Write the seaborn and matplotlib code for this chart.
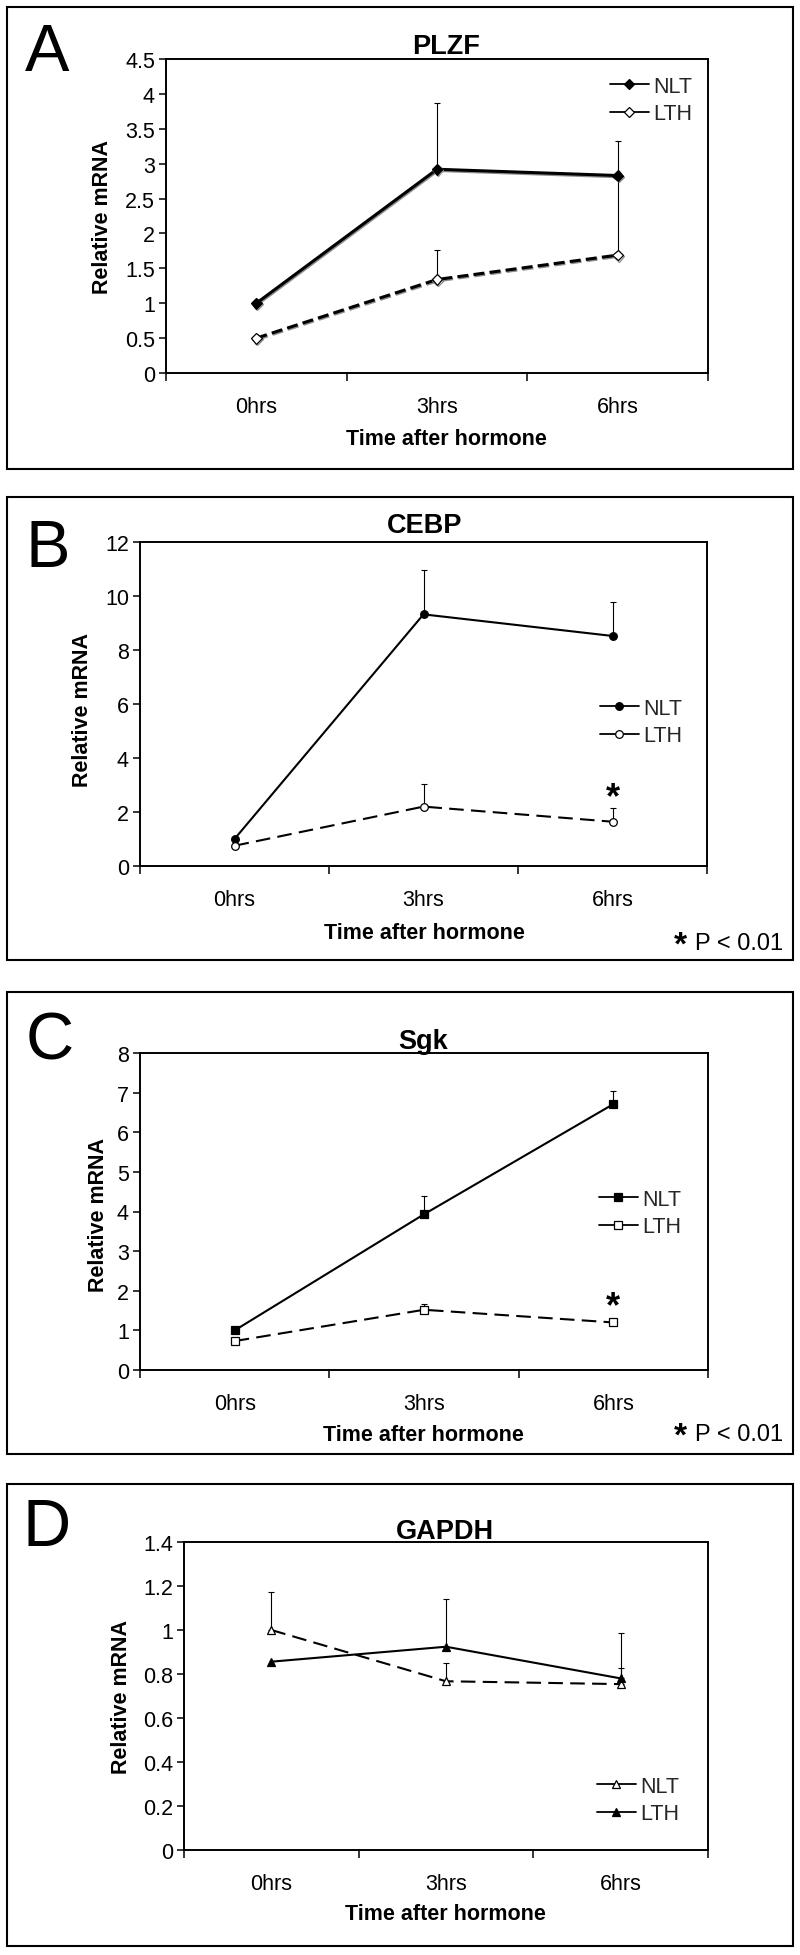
import numpy as np
import pandas as pd
import matplotlib
matplotlib.use("Agg")
import matplotlib.pyplot as plt
import matplotlib.patheffects as pe
from matplotlib.patches import Rectangle
from matplotlib.lines import Line2D
from matplotlib.ticker import FuncFormatter, MultipleLocator, FixedLocator
import seaborn as sns

# ---------------- data ----------------
times = ["0hrs", "3hrs", "6hrs"]
series = ["NLT", "LTH"]

plzf_nlt = [1.00, 2.92, 2.83]
plzf_nlt_err = [0.0, 0.95, 0.49]
plzf_lth = [0.50, 1.34, 1.69]
plzf_lth_err = [0.0, 0.42, 1.10]

cebp_nlt = [1.00, 9.32, 8.52]
cebp_nlt_err = [0.0, 1.65, 1.25]
cebp_lth = [0.75, 2.20, 1.64]
cebp_lth_err = [0.0, 0.83, 0.51]

sgk_nlt = [1.00, 3.93, 6.71]
sgk_nlt_err = [0.0, 0.45, 0.34]
sgk_lth = [0.73, 1.52, 1.20]
sgk_lth_err = [0.0, 0.15, 0.0]

gapdh_nlt = [1.00, 0.767, 0.754]
gapdh_nlt_err = [0.174, 0.083, 0.073]
gapdh_lth = [0.856, 0.924, 0.780]
gapdh_lth_err = [0.0, 0.215, 0.205]

genes = ["PLZF", "CEBP", "Sgk", "GAPDH"]
letters = ["A", "B", "C", "D"]
y_max = [4.5, 12, 8, 1.4]
y_step = [0.5, 2, 1, 0.2]
signif_time = [None, "6hrs", "6hrs", None]
signif_level = [None, 2.7, 1.7, None]
p_note = "P < 0.01"

# ---------------- style / layout ----------------
sns.set_theme(style="ticks")
plt.rcParams["font.family"] = ["Liberation Sans", "DejaVu Sans"]

W, H = 800, 1956
fig = plt.figure(figsize=(W / 100, H / 100), dpi=100)
fig.patch.set_facecolor("white")


def fx(px):
    return px / W


def fy(py):
    return 1 - py / H


def pt2px(pt):
    return pt * 100 / 72


layout = [
    dict(frame=(7, 8, 793, 470), axes=(166, 60, 708, 374), letter=(47, 47),
         title=(446, 44), xlab=(446, 437), ylab=(100, 217), leg=(610, 101),
         pnote=None, marker="D", ms=5.5, lw=2.2,
         dash=(3.6, 1.7), shadow=True),
    dict(frame=(7, 498, 793, 961), axes=(140, 543, 707, 867), letter=(48, 543),
         title=(425, 523), xlab=(424, 931), ylab=(80, 710), leg=(600, 723),
         pnote=942, marker="o", ms=5.5, lw=1.5,
         dash=(7.0, 3.5), shadow=False),
    dict(frame=(7, 993, 793, 1455), axes=(140, 1054, 708, 1371), letter=(50, 1036),
         title=(423, 1039), xlab=(423, 1433), ylab=(96, 1215), leg=(599, 1214),
         pnote=1433, marker="s", ms=5.5, lw=1.5,
         dash=(7.0, 3.5), shadow=False),
    dict(frame=(7, 1485, 793, 1947), axes=(184, 1543, 708, 1851), letter=(47, 1522),
         title=(445, 1529), xlab=(445, 1912), ylab=(119, 1697), leg=(597, 1801),
         pnote=None, marker="^", ms=6, lw=1.5,
         dash=(7.0, 3.5), shadow=False),
]

# per panel: which series is drawn solid/filled
panel_data = [
    (plzf_nlt, plzf_nlt_err, plzf_lth, plzf_lth_err, {"NLT": "solid", "LTH": "open"}),
    (cebp_nlt, cebp_nlt_err, cebp_lth, cebp_lth_err, {"NLT": "solid", "LTH": "open"}),
    (sgk_nlt, sgk_nlt_err, sgk_lth, sgk_lth_err, {"NLT": "solid", "LTH": "open"}),
    (gapdh_nlt, gapdh_nlt_err, gapdh_lth, gapdh_lth_err, {"NLT": "open", "LTH": "solid"}),
]

TICK = 15.5
LAB = 15.5
TITLE = 19.5
LEG = 15.5

for i in range(4):
    L = layout[i]
    nlt, nlt_err, lth, lth_err, kind = panel_data[i]

    # outer frame
    l, t, r, b = L["frame"]
    fig.add_artist(Rectangle((fx(l), fy(b)), (r - l) / W, (b - t) / H,
                             transform=fig.transFigure, fill=False,
                             edgecolor="black", linewidth=1.5))
    # panel letter
    lx, ly = L["letter"]
    fig.text(fx(lx), fy(ly + 0.358 * pt2px(48)), letters[i], fontsize=48,
             ha="center", va="baseline", color="black")

    al, at, ar, ab = L["axes"]
    aw, ah = ar - al, ab - at
    ax = fig.add_axes([fx(al), fy(ab), aw / W, ah / H])
    ax.set_facecolor("white")

    df = pd.DataFrame({
        "time": times * 2,
        "pos": list(range(len(times))) * 2,
        "series": ["NLT"] * 3 + ["LTH"] * 3,
        "value": nlt + lth,
        "err": nlt_err + lth_err,
    })

    handles = []
    for s in series:
        sub = df[df["series"] == s]
        filled = kind[s] == "solid"
        ls = "-" if filled else (0, L["dash"])
        mk = L["marker"]
        ms = L["ms"]
        # error bars (upper only)
        m = sub["err"].values > 0
        if m.any():
            ax.errorbar(sub["pos"].values[m], sub["value"].values[m],
                        yerr=[np.zeros(m.sum()), sub["err"].values[m]],
                        fmt="none", ecolor="black", elinewidth=0.8,
                        capsize=2.5, capthick=0.8, zorder=1.5)
        sns.lineplot(data=sub, x="pos", y="value", ax=ax, color="black",
                     linewidth=L["lw"], linestyle=ls, marker=mk, markersize=ms,
                     markerfacecolor="black" if filled else "white",
                     markeredgecolor="black", markeredgewidth=0.9,
                     errorbar=None, legend=False, zorder=3, sort=False)
        line = ax.lines[-1]
        if L["shadow"]:
            line.set_path_effects([pe.SimpleLineShadow(offset=(0.6, -0.9),
                                                       shadow_color="0.5", alpha=0.9),
                                   pe.Normal()])
        handles.append(Line2D([], [], color="black", linewidth=1.3, linestyle="-",
                              marker=mk, markersize=ms,
                              markerfacecolor="black" if filled else "white",
                              markeredgecolor="black", markeredgewidth=0.9,
                              label=s))

    # significance asterisk
    if signif_time[i] is not None:
        ax.annotate("*", xy=(times.index(signif_time[i]), signif_level[i]),
                    xytext=(0, -10), textcoords="offset points",
                    ha="center", va="baseline", fontsize=26, fontweight="bold",
                    color="black")

    # axes formatting
    ax.set_xlim(-0.5, len(times) - 0.5)
    ax.set_ylim(0, y_max[i])
    ax.yaxis.set_major_locator(MultipleLocator(y_step[i]))
    ax.yaxis.set_major_formatter(FuncFormatter(lambda v, p: f"{round(v, 6):g}"))
    ax.set_xticks(range(len(times)))
    ax.set_xticklabels(times)
    ax.xaxis.set_minor_locator(FixedLocator([-0.5, 0.5, 1.5, 2.5]))
    ax.tick_params(axis="x", which="major", length=0, pad=16.5, labelsize=TICK,
                   labelcolor="black")
    ax.tick_params(axis="x", which="minor", length=5.5, width=1.1,
                   direction="out", color="black", bottom=True)
    ax.tick_params(axis="y", which="major", length=5, width=1.1, direction="out",
                   pad=3, labelsize=TICK, color="black", labelcolor="black")
    for sp in ax.spines.values():
        sp.set_color("black")
        sp.set_linewidth(1.4)
        sp.set_visible(True)

    # title
    tx, ty = L["title"]
    ax.set_title(genes[i], x=(tx - al) / aw,
                 y=(ab - (ty + 0.358 * pt2px(TITLE))) / ah,
                 pad=0, fontsize=TITLE, fontweight="bold", va="baseline",
                 color="black")
    # x label
    xx, xy = L["xlab"]
    ax.set_xlabel("Time after hormone", fontsize=LAB, fontweight="bold",
                  va="baseline", color="black")
    ax.xaxis.set_label_coords((xx - al) / aw, (ab - (xy + 0.358 * pt2px(LAB))) / ah)
    # y label
    yx, yy = L["ylab"]
    ax.set_ylabel("Relative mRNA", fontsize=LAB, fontweight="bold",
                  va="baseline", color="black")
    ax.yaxis.set_label_coords((yx + 0.358 * pt2px(LAB) - al) / aw, (ab - yy) / ah)

    # legend
    gx, gy = L["leg"]
    ax.legend(handles=handles, loc="center left",
              bbox_to_anchor=(fx(gx), fy(gy)), bbox_transform=fig.transFigure,
              frameon=False, fontsize=LEG, handlelength=1.8, handletextpad=0.2,
              labelspacing=0.3, borderpad=0, borderaxespad=0, numpoints=1)

    # p-value note
    if L["pnote"] is not None:
        py = L["pnote"]
        fig.text(fx(783), fy(py + 0.358 * pt2px(17)), p_note, fontsize=17,
                 ha="right", va="baseline", color="black")
        fig.text(fx(680), fy(py + 0.58 * pt2px(24) - 7), "*", fontsize=24,
                 fontweight="bold", ha="center", va="baseline", color="black")

fig.savefig("out.png", dpi=100, facecolor="white")
